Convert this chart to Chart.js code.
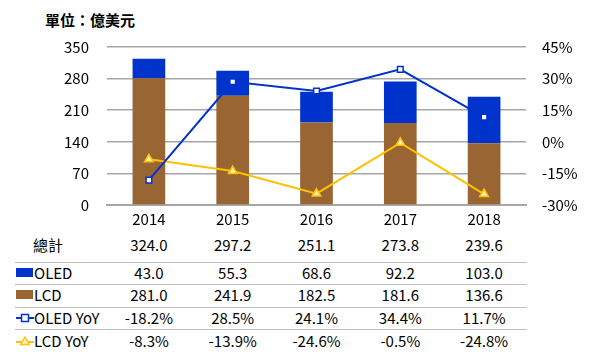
<!DOCTYPE html>
<html><head><meta charset="utf-8">
<script src="https://cdn.jsdelivr.net/npm/chart.js@4.4.1/dist/chart.umd.min.js"></script>
<style>
html,body{margin:0;padding:0;background:#fff;}
body{width:592px;height:355px;position:relative;overflow:hidden;font-family:"Noto Sans CJK TC","Noto Sans",sans-serif;color:#000;}
#wrap{position:absolute;left:0;top:0;width:592px;height:232px;}
#unit{position:absolute;left:45px;top:9px;font-size:15px;font-weight:bold;}
.cell{position:absolute;font-size:15px;line-height:20px;white-space:nowrap;transform:translate(-50%,-50%);}
.lab{position:absolute;font-size:15px;line-height:20px;white-space:nowrap;transform:translateY(-50%);display:flex;align-items:center;}
.sep{position:absolute;left:15px;width:512px;height:1px;background:#c0c0c0;}
</style></head>
<body>
<div id="unit">單位：億美元</div>
<div id="wrap"><canvas id="c" width="592" height="232"></canvas></div>
<div id="table"></div>
<script>
const categories = ["2014","2015","2016","2017","2018"];
const totals = [324.0, 297.2, 251.1, 273.8, 239.6];
const oled = [43.0, 55.3, 68.6, 92.2, 103.0];
const lcd = [281.0, 241.9, 182.5, 181.6, 136.6];
const oledYoY = [-18.2, 28.5, 24.1, 34.4, 11.7];
const lcdYoY = [-8.3, -13.9, -24.6, -0.5, -24.8];
const leftTicks = [0, 70, 140, 210, 280, 350];
const rightTicks = [-30, -15, 0, 15, 30, 45];

const BLUE = "#0033cc", BROWN = "#996633", YELLOW = "#ffc000";
const FONT = {family: '"Noto Sans CJK TC","Noto Sans",sans-serif', size: 15};

const chart = new Chart(document.getElementById("c"), {
  data: {
    labels: categories,
    datasets: [
      {type:"line", label:"OLED YoY", data: oledYoY, yAxisID:"y2", borderColor: BLUE, borderWidth: 2,
       pointStyle:"rect", pointRadius: 4, pointBackgroundColor:"#fff", pointBorderColor: BLUE, pointBorderWidth: 1.5, order: 0},
      {type:"line", label:"LCD YoY", data: lcdYoY, yAxisID:"y2", borderColor: YELLOW, borderWidth: 2,
       pointStyle:"triangle", pointRadius: 5, pointBackgroundColor:"#fff3c0", pointBorderColor: YELLOW, pointBorderWidth: 1.5, order: 1},
      {type:"bar", label:"LCD", data: lcd, yAxisID:"y", backgroundColor: BROWN, stack:"s", barPercentage: 0.39, categoryPercentage: 1, order: 2},
      {type:"bar", label:"OLED", data: oled, yAxisID:"y", backgroundColor: BLUE, stack:"s", barPercentage: 0.39, categoryPercentage: 1, order: 3}
    ]
  },
  options: {
    responsive: false, animation: false,
    layout: {padding: {top: 47, left: 0, right: 0, bottom: 0}},
    plugins: {legend: {display: false}, tooltip: {enabled: false}},
    scales: {
      x: {stacked: true, grid: {display: false, drawTicks: false}, border: {color: "#a6a6a6", width: 2},
          ticks: {font: FONT, color: "#000", padding: 5},
          afterFit: s => { s.height = 23; }},
      y: {position: "left", stacked: true, min: 0, max: 350,
          afterBuildTicks: s => { s.ticks = leftTicks.map(v => ({value: v})); },
          grid: {color: "#a6a6a6", lineWidth: 1.5, drawTicks: false}, border: {display: false},
          ticks: {font: FONT, color: "#000", padding: 18},
          afterFit: s => { s.width = 107; }},
      y2: {position: "right", min: -30, max: 45,
          afterBuildTicks: s => { s.ticks = rightTicks.map(v => ({value: v})); },
          grid: {display: false, drawTicks: false}, border: {display: false},
          ticks: {font: FONT, color: "#000", padding: 16, callback: v => v + "%"},
          afterFit: s => { s.width = 66; }}
    }
  }
});

// data table positioned from the chart's x scale
const xs = chart.scales.x;
const table = document.getElementById("table");
const rowY = [245, 273, 295, 318, 341];
const sepY = [262, 284, 307, 329];
sepY.forEach(y => { const d = document.createElement("div"); d.className = "sep"; d.style.top = y + "px"; table.appendChild(d); });

const rows = [
  {label: "總計", marker: null, vals: totals.map(v => v.toFixed(1))},
  {label: "OLED", marker: "barB", vals: oled.map(v => v.toFixed(1))},
  {label: "LCD", marker: "barL", vals: lcd.map(v => v.toFixed(1))},
  {label: "OLED YoY", marker: "lineB", vals: oledYoY.map(v => v.toFixed(1) + "%")},
  {label: "LCD YoY", marker: "lineY", vals: lcdYoY.map(v => v.toFixed(1) + "%")}
];
function markerSVG(m) {
  if (m === "barB") return '<svg width="18" height="10"><rect x="0" y="0" width="17" height="9" fill="'+BLUE+'"/></svg>';
  if (m === "barL") return '<svg width="18" height="10"><rect x="0" y="0" width="17" height="9" fill="'+BROWN+'"/></svg>';
  if (m === "lineB") return '<svg width="18" height="10"><line x1="0" y1="5" x2="18" y2="5" stroke="'+BLUE+'" stroke-width="2"/><rect x="5.5" y="1.5" width="7" height="7" fill="#fff" stroke="'+BLUE+'" stroke-width="1.5"/></svg>';
  return '<svg width="18" height="10"><line x1="0" y1="6" x2="18" y2="6" stroke="'+YELLOW+'" stroke-width="2"/><polygon points="9,1 13.5,8.5 4.5,8.5" fill="#fff3c0" stroke="'+YELLOW+'" stroke-width="1.3"/></svg>';
}
rows.forEach((r, ri) => {
  const y = rowY[ri];
  if (!r.marker) {
    const c = document.createElement("div"); c.className = "cell"; c.style.left = "48px"; c.style.top = y + "px"; c.textContent = r.label; table.appendChild(c);
  } else {
    const l = document.createElement("div"); l.className = "lab"; l.style.left = "16px"; l.style.top = y + "px";
    l.innerHTML = markerSVG(r.marker) + '<span></span>'; l.querySelector("span").textContent = r.label; table.appendChild(l);
  }
  r.vals.forEach((v, i) => {
    const c = document.createElement("div"); c.className = "cell";
    c.style.left = xs.getPixelForValue(i) + "px"; c.style.top = y + "px"; c.textContent = v; table.appendChild(c);
  });
});
</script>
</body></html>
